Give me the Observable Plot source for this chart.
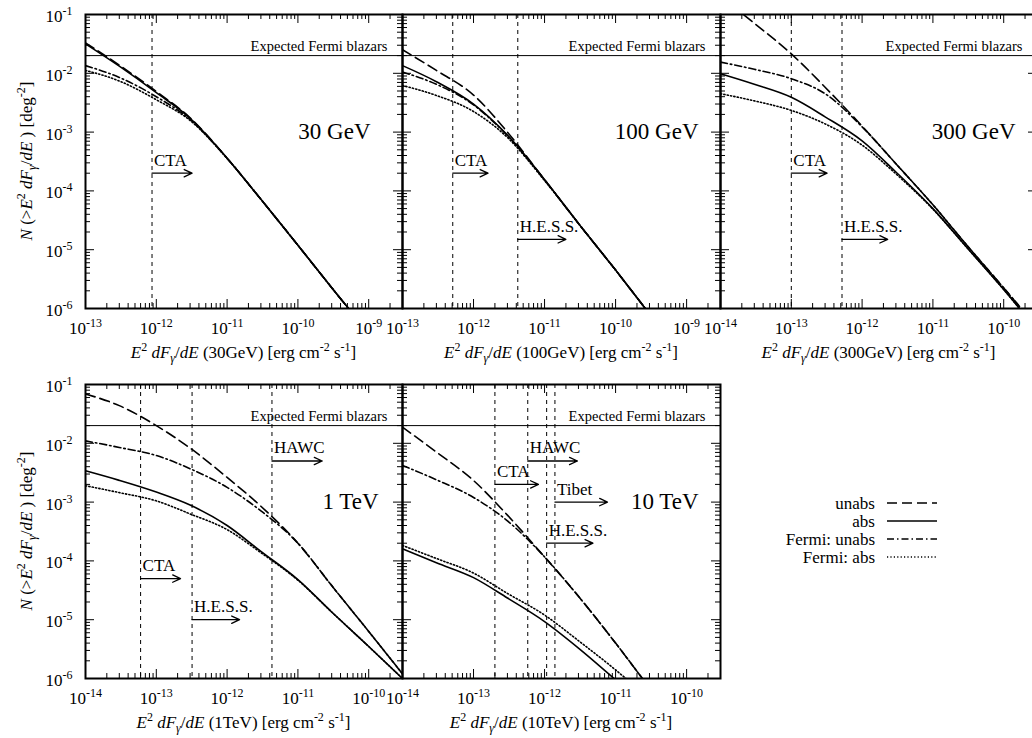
<!DOCTYPE html>
<html>
<head>
<meta charset="utf-8">
<title>Blazar source counts above a flux threshold</title>
<script src="https://cdn.jsdelivr.net/npm/d3@7"></script>
<script src="https://cdn.jsdelivr.net/npm/@observablehq/plot@0.6"></script>
<style>
  html, body { margin: 0; padding: 0; background: #fff; }
  #figure { position: relative; width: 1032px; height: 738px; overflow: hidden; background: #fff; }
  #figure > svg {
    position: absolute; left: 0; top: 0;
    max-width: none !important; overflow: visible;
    background: none !important;
  }
  #figure svg, #figure svg text, #figure svg tspan {
    font-family: 'Liberation Serif', 'Times New Roman', serif !important;
  }
</style>
</head>
<body>
<div id="figure"></div>
<script>
// ---------------- values ----------------
const yDomain = [1e-6, 1e-1];                 // N(>S) [deg^-2]
const fermiExpected = 0.02;                   // expected density of Fermi blazars
const seriesNames = ["unabs", "abs", "Fermi: unabs", "Fermi: abs"];
const panelTitles = ["30 GeV", "100 GeV", "300 GeV", "1 TeV", "10 TeV"];
const axisEnergies = ["30GeV", "100GeV", "300GeV", "1TeV", "10TeV"];

// flux ranges and sampling grids, erg cm^-2 s^-1
const fluxDomainA = [1e-13, 3e-9];
const fluxDomainB = [1e-14, 3e-10];
const fluxGridA = [1e-13, 3e-13, 1e-12, 3e-12, 1e-11, 3e-11, 1e-10, 3e-10, 1e-9];
const fluxGridB = [1e-14, 3e-14, 1e-13, 3e-13, 1e-12, 3e-12, 1e-11, 3e-11, 1e-10, 3e-10];

// 30 GeV
const n30Unabs      = [0.033, 0.0138, 4.9e-3, 1.75e-3, 3.6e-4, 7.2e-5, 1.19e-5, 2.26e-6, 3.8e-7];
const n30Abs        = [0.0316, 0.0132, 4.7e-3, 1.72e-3, 3.6e-4, 7.2e-5, 1.19e-5, 2.26e-6, 3.8e-7];
const n30FermiUnabs = [0.0135, 8.5e-3, 4.0e-3, 1.64e-3, 3.6e-4, 7.2e-5, 1.19e-5, 2.26e-6, 3.8e-7];
const n30FermiAbs   = [0.0112, 7.4e-3, 3.55e-3, 1.58e-3, 3.55e-4, 7.2e-5, 1.19e-5, 2.26e-6, 3.8e-7];

// 100 GeV
const n100Unabs      = [0.0251, 0.0112, 4.27e-3, 1.0e-3, 1.55e-4, 2.8e-5, 4.5e-6, 8.1e-7, null];
const n100Abs        = [0.0135, 7.2e-3, 3.0e-3, 8.9e-4, 1.55e-4, 2.8e-5, 4.5e-6, 8.1e-7, null];
const n100FermiUnabs = [0.0105, 6.5e-3, 2.9e-3, 8.7e-4, 1.55e-4, 2.8e-5, 4.5e-6, 8.1e-7, null];
const n100FermiAbs   = [6.2e-3, 4.2e-3, 2.24e-3, 8.1e-4, 1.5e-4, 2.8e-5, 4.5e-6, 8.1e-7, null];

// 300 GeV
const n300Unabs      = [0.2, 0.071, 0.0214, 5.8e-3, 1.26e-3, 2.9e-4, 5.8e-5, 1.2e-5, 2.24e-6, 4.7e-7];
const n300Abs        = [9.8e-3, 6.5e-3, 3.9e-3, 1.82e-3, 7.1e-4, 2.1e-4, 5.0e-5, 1.1e-5, 2.1e-6, 4.2e-7];
const n300FermiUnabs = [0.0155, 0.0117, 8.1e-3, 4.5e-3, 1.23e-3, 2.9e-4, 5.8e-5, 1.2e-5, 2.24e-6, 4.7e-7];
const n300FermiAbs   = [4.5e-3, 3.4e-3, 2.34e-3, 1.38e-3, 6.0e-4, 1.95e-4, 4.9e-5, 1.1e-5, 2.1e-6, 4.2e-7];

// 1 TeV
const n1Unabs      = [0.069, 0.0437, 0.02, 8.3e-3, 2.63e-3, 8.5e-4, 2.0e-4, 3.8e-5, 6.3e-6, 1.2e-6];
const n1Abs        = [3.4e-3, 2.34e-3, 1.48e-3, 8.9e-4, 4.0e-4, 1.45e-4, 4.8e-5, 1.35e-5, 3.5e-6, 1.0e-6];
const n1FermiUnabs = [0.011, 8.5e-3, 6.2e-3, 3.7e-3, 1.78e-3, 7.1e-4, 2.0e-4, 3.8e-5, 6.3e-6, 1.2e-6];
const n1FermiAbs   = [1.9e-3, 1.45e-3, 1.05e-3, 6.3e-4, 3.4e-4, 1.38e-4, 4.7e-5, 1.35e-5, 3.5e-6, 1.0e-6];

// 10 TeV
const n10Unabs      = [0.0188, 7.1e-3, 2.33e-3, 6.0e-4, 1.17e-4, 2.5e-5, 4.0e-6, 6.9e-7, null, null];
const n10Abs        = [1.6e-4, 9.3e-5, 5.2e-5, 2.34e-5, 9.3e-6, 3.3e-6, 9.5e-7, null, null, null];
const n10FermiUnabs = [4.2e-3, 2.4e-3, 1.2e-3, 4.8e-4, 1.17e-4, 2.5e-5, 4.0e-6, 6.9e-7, null, null];
const n10FermiAbs   = [1.83e-4, 1.1e-4, 6.2e-5, 2.8e-5, 1.2e-5, 4.4e-6, 1.4e-6, 4.5e-7, null, null];

// instrument sensitivities: limit flux, arrow tip flux, arrow level
const inst30 = ["CTA"];
const lim30 = [8.7e-13];
const arrowTo30 = [3.2e-12];
const arrowAt30 = [2e-4];

const inst100 = ["CTA", "H.E.S.S."];
const lim100 = [5.1e-13, 4.2e-12];
const arrowTo100 = [1.6e-12, 2.0e-11];
const arrowAt100 = [2e-4, 1.5e-5];

const inst300 = ["CTA", "H.E.S.S."];
const lim300 = [1.0e-13, 5.2e-13];
const arrowTo300 = [3.2e-13, 2.3e-12];
const arrowAt300 = [2e-4, 1.5e-5];

const inst1 = ["CTA", "H.E.S.S.", "HAWC"];
const lim1 = [6.0e-14, 3.2e-13, 4.3e-12];
const arrowTo1 = [2.2e-13, 1.5e-12, 2.2e-11];
const arrowAt1 = [5e-5, 1e-5, 5e-3];

const inst10 = ["CTA", "HAWC", "H.E.S.S.", "Tibet"];
const lim10 = [2.0e-13, 5.8e-13, 1.07e-12, 1.4e-12];
const arrowTo10 = [8.2e-13, 2.9e-12, 4.8e-12, 7.7e-12];
const arrowAt10 = [2e-3, 5e-3, 2e-4, 1e-3];

// ---------------- layout ----------------
const FONT = "'Liberation Serif', 'Times New Roman', serif";
const W = 1032, H = 738;
const rowBox = [{top: 14, bottom: 308}, {top: 384, bottom: 678}];
const colBox = [{left: 85, right: 402}, {left: 402, right: 720}, {left: 720, right: 1037}];
const dashes = ["10,5", null, "7,3,1.5,3", "1.2,2.2"];

const panels = [
  {row: 0, col: 0, k: 0, domain: fluxDomainA, grid: fluxGridA, curves: [n30Unabs, n30Abs, n30FermiUnabs, n30FermiAbs],
   inst: inst30, lim: lim30, to: arrowTo30, at: arrowAt30, inset: 32, yLabels: true},
  {row: 0, col: 1, k: 1, domain: fluxDomainA, grid: fluxGridA, curves: [n100Unabs, n100Abs, n100FermiUnabs, n100FermiAbs],
   inst: inst100, lim: lim100, to: arrowTo100, at: arrowAt100, inset: 22, yLabels: false},
  {row: 0, col: 2, k: 2, domain: fluxDomainB, grid: fluxGridB, curves: [n300Unabs, n300Abs, n300FermiUnabs, n300FermiAbs],
   inst: inst300, lim: lim300, to: arrowTo300, at: arrowAt300, inset: 22, yLabels: false},
  {row: 1, col: 0, k: 3, domain: fluxDomainB, grid: fluxGridB, curves: [n1Unabs, n1Abs, n1FermiUnabs, n1FermiAbs],
   inst: inst1, lim: lim1, to: arrowTo1, at: arrowAt1, inset: 24, yLabels: true},
  {row: 1, col: 1, k: 4, domain: fluxDomainB, grid: fluxGridB, curves: [n10Unabs, n10Abs, n10FermiUnabs, n10FermiAbs],
   inst: inst10, lim: lim10, to: arrowTo10, at: arrowAt10, inset: 22, yLabels: false}
];

const figure = document.getElementById("figure");
const NS = "http://www.w3.org/2000/svg";

const powerLabel = (v) => "10^" + Math.round(Math.log10(v));

function decades(lo, hi) {
  const out = [];
  for (let e = Math.ceil(Math.log10(lo) - 1e-9); Math.pow(10, e) <= hi * (1 + 1e-9); e++) out.push(Math.pow(10, e));
  return out;
}
function minorTicks(lo, hi) {
  const out = [];
  for (let e = Math.floor(Math.log10(lo)); e <= Math.ceil(Math.log10(hi)); e++) {
    for (let m = 2; m < 10; m++) {
      const v = m * Math.pow(10, e);
      if (v > lo * (1 + 1e-9) && v < hi * (1 - 1e-9)) out.push(v);
    }
  }
  return out;
}

// turn "10^-13" tick labels into a base with a raised exponent; set the serif face on all text
function finishText(svg) {
  svg.querySelectorAll("text").forEach((t) => {
    t.setAttribute("font-family", FONT);
    const m = /^10\^(-?\d+)$/.exec(t.textContent.trim());
    if (!m) return;
    t.textContent = "10";
    const s = document.createElementNS(NS, "tspan");
    s.setAttribute("dy", "-7");
    s.setAttribute("font-size", "12");
    s.textContent = m[1];
    t.appendChild(s);
  });
}

for (const p of panels) {
  const r = rowBox[p.row], c = colBox[p.col];
  const width = Math.max(W, c.right + 4);
  const fw = c.right - c.left, fh = r.bottom - r.top;
  const xMajor = decades(...p.domain), xMinor = minorTicks(...p.domain);
  const yMajor = decades(...yDomain), yMinor = minorTicks(...yDomain);

  const marks = [
    // expected Fermi blazar density
    Plot.ruleY([fermiExpected], {strokeWidth: 1}),
    Plot.text(["Expected Fermi blazars"], {y: [fermiExpected], frameAnchor: "right", textAnchor: "end",
      dx: -15, dy: -9, fontSize: 14.5}),
    // instrument sensitivity limits
    Plot.ruleX(p.lim, {strokeWidth: 1, strokeDasharray: "4,4"}),
    Plot.arrow(p.inst, {x1: p.lim, x2: p.to, y1: p.at, y2: p.at, strokeWidth: 1.3, headLength: 10, headAngle: 50}),
    Plot.text(p.inst, {x: p.lim, y: p.at, text: (d) => d, textAnchor: "start", dx: 2, dy: -13, fontSize: 17}),
    // source counts
    ...p.curves.map((vals, i) => Plot.line(p.grid, {
      x: p.grid, y: vals, curve: "monotone-x", clip: true,
      strokeWidth: 1.6, strokeDasharray: dashes[i]
    })),
    Plot.text([panelTitles[p.k]], {y: [1e-3], frameAnchor: "right", textAnchor: "end", dx: -p.inset, fontSize: 23}),
    // border with inward log ticks on all four sides
    Plot.frame({strokeWidth: 2}),
    Plot.ruleX(xMajor, {insetTop: fh - 9, strokeWidth: 1}),
    Plot.ruleX(xMajor, {insetBottom: fh - 9, strokeWidth: 1}),
    Plot.ruleX(xMinor, {insetTop: fh - 5, strokeWidth: 1}),
    Plot.ruleX(xMinor, {insetBottom: fh - 5, strokeWidth: 1}),
    Plot.ruleY(yMajor, {insetRight: fw - 9, strokeWidth: 1}),
    Plot.ruleY(yMajor, {insetLeft: fw - 9, strokeWidth: 1}),
    Plot.ruleY(yMinor, {insetRight: fw - 5, strokeWidth: 1}),
    Plot.ruleY(yMinor, {insetLeft: fw - 5, strokeWidth: 1}),
    Plot.axisX(xMajor, {tickSize: 0, tickPadding: 13, tickFormat: powerLabel, fontSize: 17})
  ];
  if (p.yLabels) {
    marks.push(Plot.axisY(yMajor, {tickSize: 0, tickPadding: 40, textAnchor: "start", dy: 2,
      tickFormat: powerLabel, fontSize: 17}));
  }

  const svg = Plot.plot({
    width, height: H,
    marginLeft: c.left, marginRight: width - c.right,
    marginTop: r.top, marginBottom: H - r.bottom,
    x: {type: "log", domain: p.domain},
    y: {type: "log", domain: yDomain, axis: p.yLabels ? undefined : null},
    style: `background: none; font-family: ${FONT}; font-size: 17px; color: #000; max-width: none; overflow: visible;`,
    marks
  });
  finishText(svg);
  figure.appendChild(svg);
}

// ---------------- axis titles and key ----------------
const overlay = document.createElementNS(NS, "svg");
overlay.setAttribute("width", W);
overlay.setAttribute("height", H);
overlay.setAttribute("font-family", FONT);
figure.appendChild(overlay);

function richText(x, y, segments, {anchor = "middle", size = 17, rotate = 0} = {}) {
  const t = document.createElementNS(NS, "text");
  t.setAttribute("x", x);
  t.setAttribute("y", y);
  t.setAttribute("text-anchor", anchor);
  t.setAttribute("font-size", size);
  t.setAttribute("font-family", FONT);
  if (rotate) t.setAttribute("transform", `rotate(${rotate} ${x} ${y})`);
  let shift = 0;
  for (const s of segments) {
    const ts = document.createElementNS(NS, "tspan");
    const target = s.sup ? -7 : s.sub ? 4 : 0;
    if (target !== shift) { ts.setAttribute("dy", target - shift); shift = target; }
    if (s.sup || s.sub) ts.setAttribute("font-size", 12);
    if (s.i) ts.setAttribute("font-style", "italic");
    ts.textContent = s.t;
    t.appendChild(ts);
  }
  overlay.appendChild(t);
  return t;
}

const yTitle = [
  {t: "N", i: true}, {t: " (>"}, {t: "E", i: true}, {t: "2", sup: true}, {t: " "},
  {t: "dF", i: true}, {t: "γ", i: true, sub: true}, {t: "/"}, {t: "dE", i: true},
  {t: " ) [deg"}, {t: "-2", sup: true}, {t: "]"}
];
const xTitle = (energy) => [
  {t: "E", i: true}, {t: "2", sup: true}, {t: " "}, {t: "dF", i: true}, {t: "γ", i: true, sub: true},
  {t: "/"}, {t: "dE", i: true}, {t: ` (${energy}) [erg cm`}, {t: "-2", sup: true}, {t: " s"},
  {t: "-1", sup: true}, {t: "]"}
];

for (const r of rowBox) {
  richText(32, (r.top + r.bottom) / 2, yTitle, {rotate: -90});
}
for (const p of panels) {
  const r = rowBox[p.row], c = colBox[p.col];
  richText((c.left + c.right) / 2, r.bottom + 50, xTitle(axisEnergies[p.k]));
}

// key
seriesNames.forEach((name, i) => {
  const cy = 503 + 18 * i;
  richText(875, cy + 5.5, [{t: name}], {anchor: "end"});
  const l = document.createElementNS(NS, "line");
  l.setAttribute("x1", 887); l.setAttribute("x2", 937);
  l.setAttribute("y1", cy); l.setAttribute("y2", cy);
  l.setAttribute("stroke", "#000");
  l.setAttribute("stroke-width", 1.6);
  if (dashes[i]) l.setAttribute("stroke-dasharray", dashes[i]);
  overlay.appendChild(l);
});
</script>
</body>
</html>
